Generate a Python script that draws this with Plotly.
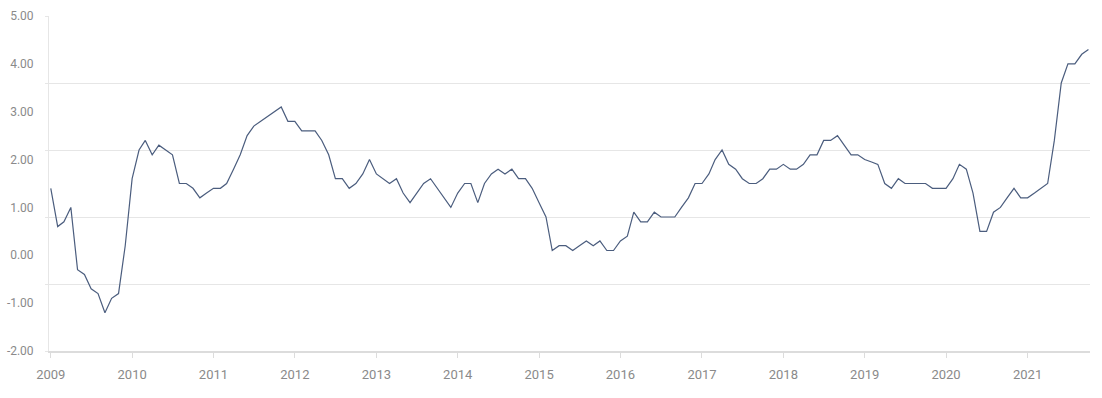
import pandas as pd
import plotly.graph_objects as go

start_month = "2009-01-01"
values = [
    1.4, 0.6, 0.7, 1.0, -0.3, -0.4, -0.7, -0.8, -1.2, -0.9, -0.8, 0.2,   # 2009
    1.6, 2.2, 2.4, 2.1, 2.3, 2.2, 2.1, 1.5, 1.5, 1.4, 1.2, 1.3,         # 2010
    1.4, 1.4, 1.5, 1.8, 2.1, 2.5, 2.7, 2.8, 2.9, 3.0, 3.1, 2.8,         # 2011
    2.8, 2.6, 2.6, 2.6, 2.4, 2.1, 1.6, 1.6, 1.4, 1.5, 1.7, 2.0,         # 2012
    1.7, 1.6, 1.5, 1.6, 1.3, 1.1, 1.3, 1.5, 1.6, 1.4, 1.2, 1.0,         # 2013
    1.3, 1.5, 1.5, 1.1, 1.5, 1.7, 1.8, 1.7, 1.8, 1.6, 1.6, 1.4,         # 2014
    1.1, 0.8, 0.1, 0.2, 0.2, 0.1, 0.2, 0.3, 0.2, 0.3, 0.1, 0.1,         # 2015
    0.3, 0.4, 0.9, 0.7, 0.7, 0.9, 0.8, 0.8, 0.8, 1.0, 1.2, 1.5,         # 2016
    1.5, 1.7, 2.0, 2.2, 1.9, 1.8, 1.6, 1.5, 1.5, 1.6, 1.8, 1.8,         # 2017
    1.9, 1.8, 1.8, 1.9, 2.1, 2.1, 2.4, 2.4, 2.5, 2.3, 2.1, 2.1,         # 2018
    2.0, 1.95, 1.9, 1.5, 1.4, 1.6, 1.5, 1.5, 1.5, 1.5, 1.4, 1.4,        # 2019
    1.4, 1.6, 1.9, 1.8, 1.3, 0.5, 0.5, 0.9, 1.0, 1.2, 1.4, 1.2,         # 2020
    1.2, 1.3, 1.4, 1.5, 2.4, 3.6, 4.0, 4.0, 4.2, 4.3,                   # 2021
]
dates = pd.date_range(start_month, periods=len(values), freq="MS")

y_ticks = [5, 4, 3, 2, 1, 0, -1, -2]
y_tick_labels = [f"{v:.2f}" for v in y_ticks]
x_tick_years = list(range(2009, 2022))

fig = go.Figure()
fig.add_trace(go.Scatter(
    x=dates, y=values, mode="lines",
    line=dict(color="#4b5d7e", width=1.2),
    hoverinfo="x+y", showlegend=False,
))
# invisible trace on the grid axis
fig.add_trace(go.Scatter(x=[dates[0]], y=[None], yaxis="y2", showlegend=False,
                         hoverinfo="skip"))

font_color = "#8a8a8a"
fig.update_layout(
    width=1102, height=398,
    margin=dict(l=49, r=12, t=16, b=47, autoexpand=False),
    paper_bgcolor="white", plot_bgcolor="white",
    font=dict(family="Roboto, sans-serif", color=font_color),
    xaxis=dict(
        type="date", automargin=False,
        range=["2008-12-24", "2021-10-08"],
        tickvals=[f"{y}-01-01" for y in x_tick_years],
        ticktext=[str(y) for y in x_tick_years],
        showgrid=False, zeroline=False,
        showline=True, linecolor="#dcdcdc", linewidth=2,
        ticks="outside", ticklen=5, tickcolor="#dcdcdc", tickwidth=1,
        ticklabelstandoff=5,
        tickfont=dict(size=13, color=font_color),
    ),
    yaxis=dict(
        automargin=False,
        range=[-2, 5],
        tickvals=y_ticks, ticktext=y_tick_labels,
        showgrid=False, zeroline=False,
        showline=True, linecolor="#e6e6e6", linewidth=1,
        ticks="outside", ticklen=12, tickcolor="rgba(0,0,0,0)",
        tickfont=dict(size=12, color=font_color),
    ),
    yaxis2=dict(
        automargin=False,
        overlaying="y", side="left",
        range=[-2, 5.0001],
        tick0=-2, dtick=1.4,
        showgrid=True, gridcolor="#e6e6e6", gridwidth=1,
        zeroline=False, showticklabels=False,
        ticks="outside", ticklen=3, tickcolor="#e6e6e6",
    ),
)

fig.write_html("out.html")
